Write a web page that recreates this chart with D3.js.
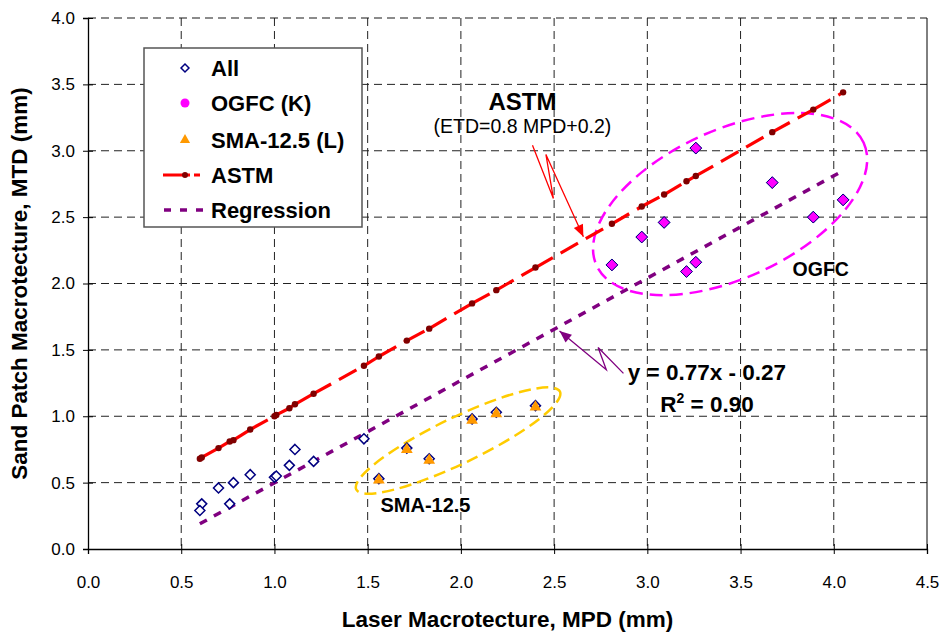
<!DOCTYPE html>
<html>
<head>
<meta charset="utf-8">
<script src="https://cdn.jsdelivr.net/npm/d3@7"></script>
<style>
  body { margin: 0; background: white; }
  text { font-family: 'Liberation Sans', Arial, sans-serif; }
</style>
</head>
<body>
<svg id="chart" width="944" height="634"></svg>
<script>

// points that are neither OGFC nor SMA
var otherMpd = [0.61, 0.60, 0.70, 0.78, 0.76, 0.87, 1.00, 1.01, 1.08, 1.11, 1.21, 1.48];
var otherMtd = [0.34, 0.29, 0.46, 0.50, 0.34, 0.56, 0.54, 0.55, 0.63, 0.75, 0.66, 0.83];

var ogfcMpd = [2.81, 2.97, 3.09, 3.26, 3.21, 3.26, 3.67, 3.89, 4.05];
var ogfcMtd = [2.14, 2.35, 2.46, 3.02, 2.09, 2.16, 2.76, 2.50, 2.63];

var smaMpd = [1.56, 1.71, 1.83, 2.06, 2.19, 2.40];
var smaMtd = [0.53, 0.76, 0.68, 0.98, 1.03, 1.08];

// ETD = 0.8 MPD + 0.2 at each measured MPD
var astmMpd = [0.60, 0.61, 0.70, 0.76, 0.78, 0.87, 1.00, 1.01, 1.08, 1.11, 1.21, 1.48, 1.56,
               1.71, 1.83, 2.06, 2.19, 2.40, 2.81, 2.97, 3.09, 3.21, 3.26, 3.67, 3.89, 4.05];
var astmMtd = [0.68, 0.69, 0.76, 0.81, 0.82, 0.90, 1.00, 1.01, 1.06, 1.09, 1.17, 1.38, 1.45,
               1.57, 1.66, 1.85, 1.95, 2.12, 2.45, 2.58, 2.67, 2.77, 2.81, 3.14, 3.31, 3.44];

var regMpd = [0.60, 4.05];
var regMtd = [0.19, 2.85];

var xTicks = [0, 0.5, 1, 1.5, 2, 2.5, 3, 3.5, 4, 4.5];
var yTicks = [0, 0.5, 1, 1.5, 2, 2.5, 3, 3.5, 4];

var legendNames = ['All', 'OGFC (K)', 'SMA-12.5 (L)', 'ASTM', 'Regression'];

var allMpd = otherMpd.concat(smaMpd, ogfcMpd);
var allMtd = otherMtd.concat(smaMtd, ogfcMtd);

var margin = {top: 18, right: 17, bottom: 85, left: 88};
var width = 944 - margin.left - margin.right;
var height = 634 - margin.top - margin.bottom;

var x = d3.scaleLinear().domain([0, 4.5]).range([0, width]);
var y = d3.scaleLinear().domain([0, 4]).range([height, 0]);

var svg = d3.select('#chart')
  .append('g')
  .attr('transform', 'translate(' + margin.left + ',' + margin.top + ')');

// gridlines
svg.selectAll('.hgrid')
  .data(yTicks.filter(t => t > 0))
  .enter()
  .append('line')
  .attr('x1', 0).attr('x2', width)
  .attr('y1', d => y(d)).attr('y2', d => y(d))
  .attr('stroke', d => d == 4 ? '#666' : '#222')
  .attr('stroke-width', d => d == 4 ? 1.5 : 1)
  .attr('stroke-dasharray', '8,5');

svg.selectAll('.vgrid')
  .data(xTicks.filter(t => t > 0 && t < 4.5))
  .enter()
  .append('line')
  .attr('y1', 0).attr('y2', height)
  .attr('x1', d => x(d)).attr('x2', d => x(d))
  .attr('stroke', '#222')
  .attr('stroke-dasharray', '8,5');

svg.append('line')
  .attr('x1', width).attr('x2', width)
  .attr('y1', 0).attr('y2', height)
  .attr('stroke', 'black');

// axes
var xAxis = svg.append('g')
  .attr('transform', 'translate(0,' + height + ')')
  .call(d3.axisBottom(x).tickValues(xTicks).tickFormat(d3.format('.1f')).tickSize(5).tickPadding(22));
var yAxis = svg.append('g')
  .call(d3.axisLeft(y).tickValues(yTicks).tickFormat(d3.format('.1f')).tickSize(5).tickPadding(8));

[xAxis, yAxis].forEach(a => {
  a.select('.domain').attr('stroke', 'black').attr('stroke-width', 1.3);
  a.selectAll('.tick line').attr('stroke', 'black');
  a.selectAll('text').attr('font-size', 17).attr('fill', 'black')
    .attr('font-family', "'Liberation Sans', Arial, sans-serif");
});
xAxis.selectAll('.tick').append('line').attr('y2', -5).attr('stroke', 'black');
yAxis.selectAll('.tick').append('line').attr('x2', 5).attr('stroke', 'black');

svg.append('text')
  .attr('x', width / 2).attr('y', height + 78)
  .attr('text-anchor', 'middle')
  .attr('font-size', 22.5).attr('font-weight', 'bold')
  .text('Laser Macrotecture, MPD (mm)');

svg.append('text')
  .attr('transform', 'translate(' + (-61) + ',' + (height / 2) + ') rotate(-90)')
  .attr('text-anchor', 'middle')
  .attr('font-size', 22.5).attr('font-weight', 'bold')
  .text('Sand Patch Macrotecture, MTD (mm)');

// group ellipses
function ellipse(cx, cy, rx, ry, angle, color, dash)
{
  svg.append('ellipse')
    .attr('transform', 'translate(' + x(cx) + ',' + y(cy) + ') rotate(' + angle + ')')
    .attr('rx', rx).attr('ry', ry)
    .attr('fill', 'none')
    .attr('stroke', color)
    .attr('stroke-width', 2.5)
    .attr('stroke-dasharray', dash);
}
ellipse(3.444, 2.598, 147, 74, -24.7, '#FF00FF', '13,7');
ellipse(1.985, 0.817, 113, 23, -25.7, '#FFCC00', '12,6');

// regression
svg.append('line')
  .attr('x1', x(regMpd[0])).attr('y1', y(regMtd[0]))
  .attr('x2', x(regMpd[1])).attr('y2', y(regMtd[1]))
  .attr('stroke', '#800080')
  .attr('stroke-width', 3.5)
  .attr('stroke-dasharray', '8,8');

// ASTM line, dash restarts at each segment
var astm = astmMpd.map((d, i) => ({x: d, y: astmMtd[i]}));
for (var i = 1; i < astm.length; i++)
{
  svg.append('line')
    .attr('x1', x(astm[i - 1].x)).attr('y1', y(astm[i - 1].y))
    .attr('x2', x(astm[i].x)).attr('y2', y(astm[i].y))
    .attr('stroke', '#FF0000')
    .attr('stroke-width', 3.2)
    .attr('stroke-dasharray', '20,9');
}
svg.selectAll('.astm-dot')
  .data(astm)
  .enter()
  .append('circle')
  .attr('cx', d => x(d.x)).attr('cy', d => y(d.y))
  .attr('r', 3.2)
  .attr('fill', '#800000');

// markers
var diamond = d3.symbol().type(d3.symbolDiamond2).size(64);
var diamondBig = d3.symbol().type(d3.symbolDiamond2).size(88);
var triangle = d3.symbol().type(d3.symbolTriangle).size(60);

svg.selectAll('.all-pt')
  .data(allMpd.map((d, i) => [d, allMtd[i]]))
  .enter()
  .append('path')
  .attr('d', diamond)
  .attr('transform', d => 'translate(' + x(d[0]) + ',' + y(d[1]) + ')')
  .attr('fill', 'white')
  .attr('stroke', '#000080')
  .attr('stroke-width', 1.5);

svg.selectAll('.ogfc-pt')
  .data(ogfcMpd.map((d, i) => [d, ogfcMtd[i]]))
  .enter()
  .append('path')
  .attr('d', diamondBig)
  .attr('transform', d => 'translate(' + x(d[0]) + ',' + y(d[1]) + ')')
  .attr('fill', '#FF00FF')
  .attr('stroke', '#000080')
  .attr('stroke-width', 1);

svg.selectAll('.sma-pt')
  .data(smaMpd.map((d, i) => [d, smaMtd[i]]))
  .enter()
  .append('path')
  .attr('d', triangle)
  .attr('transform', d => 'translate(' + x(d[0]) + ',' + (y(d[1]) + 1.5) + ')')
  .attr('fill', '#FF9900');

// annotations
function arrow(pts, color)
{
  var p = pts.map(d => [x(d[0]), y(d[1])]);
  svg.append('path')
    .attr('d', d3.line()(p))
    .attr('fill', 'none')
    .attr('stroke', color)
    .attr('stroke-width', 1.3);
  var a = p[p.length - 2], b = p[p.length - 1];
  var ang = Math.atan2(b[1] - a[1], b[0] - a[0]) * 180 / Math.PI;
  svg.append('path')
    .attr('d', 'M0,0 L-12,-5 L-12,5 Z')
    .attr('transform', 'translate(' + b[0] + ',' + b[1] + ') rotate(' + ang + ')')
    .attr('fill', color);
}
arrow([[2.384, 3.042], [2.496, 2.641], [2.456, 2.972], [2.657, 2.352]], '#FF0000');
arrow([[2.872, 1.323], [2.736, 1.518], [2.780, 1.350], [2.529, 1.642]], '#800080');

svg.append('text')
  .attr('x', x(2.33)).attr('y', y(3.31))
  .attr('text-anchor', 'middle')
  .attr('font-size', 24).attr('font-weight', 'bold')
  .text('ASTM');
svg.append('text')
  .attr('x', x(2.33)).attr('y', y(3.13))
  .attr('text-anchor', 'middle')
  .attr('font-size', 19.5)
  .text('(ETD=0.8 MPD+0.2)');
svg.append('text')
  .attr('x', x(3.93)).attr('y', y(2.06))
  .attr('text-anchor', 'middle')
  .attr('font-size', 19.5).attr('font-weight', 'bold')
  .text('OGFC');
svg.append('text')
  .attr('x', x(1.81)).attr('y', y(0.28))
  .attr('text-anchor', 'middle')
  .attr('font-size', 20).attr('font-weight', 'bold')
  .text('SMA-12.5');
svg.append('text')
  .attr('x', x(3.32)).attr('y', y(1.27))
  .attr('text-anchor', 'middle')
  .attr('font-size', 22.5).attr('font-weight', 'bold')
  .text('y = 0.77x - 0.27');
var r2 = svg.append('text')
  .attr('x', x(3.32)).attr('y', y(1.03))
  .attr('text-anchor', 'middle')
  .attr('font-size', 22.5).attr('font-weight', 'bold');
r2.append('tspan').text('R');
r2.append('tspan').attr('font-size', 14).attr('dy', -9).text('2');
r2.append('tspan').attr('dy', 9).text(' = 0.90');

// legend
var legend = svg.append('g').attr('transform', 'translate(' + (144 - margin.left) + ',' + (48 - margin.top) + ')');
legend.append('rect')
  .attr('width', 218).attr('height', 179)
  .attr('fill', 'white')
  .attr('stroke', '#555')
  .attr('stroke-width', 1.5);

var rowY = [20, 55, 92, 127, 162];
legend.selectAll('.leg-text')
  .data(legendNames)
  .enter()
  .append('text')
  .attr('x', 67).attr('y', (d, i) => rowY[i] + 8)
  .attr('font-size', 22).attr('font-weight', 'bold')
  .text(d => d);

legend.append('path').attr('d', d3.symbol().type(d3.symbolDiamond2).size(40))
  .attr('transform', 'translate(41,' + rowY[0] + ')')
  .attr('fill', 'white').attr('stroke', '#000080').attr('stroke-width', 1.5);
legend.append('circle').attr('cx', 41).attr('cy', rowY[1]).attr('r', 4.5).attr('fill', '#FF00FF');
legend.append('path').attr('d', d3.symbol().type(d3.symbolTriangle).size(45))
  .attr('transform', 'translate(41,' + rowY[2] + ')').attr('fill', '#FF9900');
legend.append('line').attr('x1', 19).attr('x2', 56).attr('y1', rowY[3]).attr('y2', rowY[3])
  .attr('stroke', '#FF0000').attr('stroke-width', 3).attr('stroke-dasharray', '27,4,7');
legend.append('circle').attr('cx', 41).attr('cy', rowY[3]).attr('r', 3).attr('fill', '#800000');
legend.append('line').attr('x1', 20).attr('x2', 60).attr('y1', rowY[4]).attr('y2', rowY[4])
  .attr('stroke', '#800080').attr('stroke-width', 3.5).attr('stroke-dasharray', '7,9');

</script>
</body>
</html>
